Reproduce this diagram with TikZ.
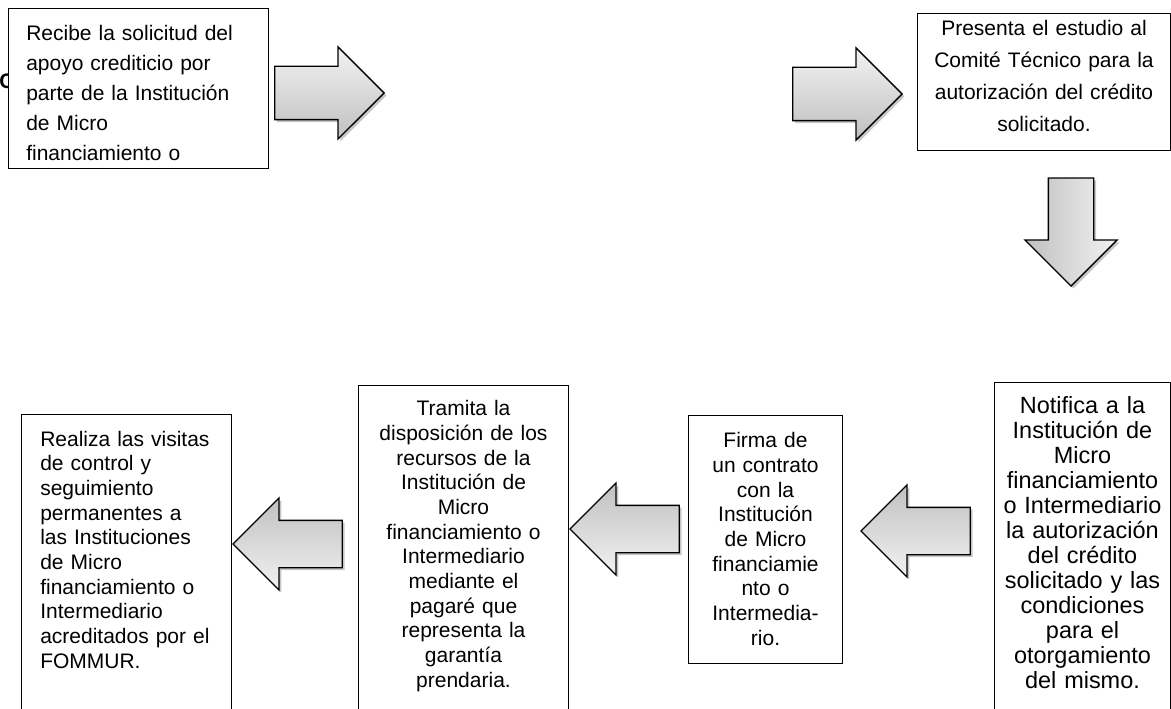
\documentclass[tikz,border=0pt]{standalone}
\usepackage{fontspec}
\setmainfont{Liberation Sans}
\usetikzlibrary{shapes.arrows,shadows,positioning}
\definecolor{flowLight}{HTML}{F2F2F2}
\definecolor{flowDark}{HTML}{C0C0C0}
\tikzset{
    % boxes and texts of the steps
    stepbox/.style={rectangle,draw=black,line width=0.75pt,fill=white,inner sep=0pt,anchor=north west},
    steptext/.style={inner sep=0pt,align=center,font=\fontsize{15.75}{18.5}\selectfont},
    % block arrows between the steps
    blockarrow/.style={single arrow,draw=black,line width=1pt,inner sep=17.25pt,single arrow head extend=16.75pt,minimum height=82pt,minimum width=68pt,anchor=tip,
        drop shadow={shadow xshift=1.8pt,shadow yshift=-1.8pt,fill=black,opacity=0.22}},
    rightarrow/.style={blockarrow,top color=flowLight,bottom color=flowDark},
    leftarrow/.style={blockarrow,shape border rotate=180,top color=flowDark,bottom color=flowLight},
    downarrow/.style={blockarrow,shape border rotate=270,left color=flowDark,right color=flowLight}
}

\begin{document}
\begin{tikzpicture}[x=0.75pt,y=-0.75pt]
\path[use as bounding box] (0,0) rectangle (1171,709);
\clip (0,0) rectangle (1171,709);
\fill[white] (0,0) rectangle (1171,709);

% Letter hidden behind the first box
\node[inner sep=0pt,anchor=west,font=\bfseries\fontsize{15.75}{18}\selectfont] (hiddenC) at (-1,81.5) {C};

% Top row - left to right
\node[stepbox,minimum width=195pt,minimum height=120pt] (recibe) at (8,8) {};
\node[steptext,align=left,text width=180pt,font=\fontsize{15.75}{22.5}\selectfont,below right=12.4pt and 13.5pt of recibe.north west] (recibe_txt) {Recibe la solicitud del\\apoyo crediticio por\\parte de la Institución\\de Micro\\financiamiento o};

\node[rightarrow,inner sep=19.5pt,single arrow head extend=14.5pt] (arrow_a) at (385,93) {};
\node[rightarrow,inner sep=19.5pt,single arrow head extend=14.5pt] (arrow_b) at (903,94) {};

\node[stepbox,minimum width=189.75pt,minimum height=102.75pt] (presenta) at (917,13) {};
\node[steptext,text width=185pt,font=\fontsize{15.75}{23.8}\selectfont,below=5.6pt of presenta.north] (presenta_txt) {Presenta el estudio al\\Comité Técnico para la\\autorización del crédito\\solicitado.};

% Turn down to the second row
\node[downarrow,inner sep=16.5pt,single arrow head extend=17.5pt,minimum height=81pt] (arrow_c) at (1071,287) {};

% Bottom row - right to left
\node[stepbox,minimum width=132pt,minimum height=255pt] (notifica) at (994,382) {};
\node[steptext,text width=130pt,font=\fontsize{17.6}{18.75}\selectfont,below=11pt of notifica.north] (notifica_txt) {Notifica a la\\Institución de\\Micro\\financiamiento\\o Intermediario\\la autorización\\del crédito\\solicitado y las\\condiciones\\para el\\otorgamiento\\del mismo.};

\node[leftarrow] (arrow_d) at (860,531) {};

\node[stepbox,minimum width=115.5pt,minimum height=186pt] (firma) at (688,415) {};
\node[steptext,text width=112pt,below=13.1pt of firma.north] (firma_txt) {Firma de\\un contrato\\con la\\Institución\\de Micro\\financiamie\\nto o\\Intermedia-\\rio.};

\node[leftarrow] (arrow_e) at (569,529) {};

\node[stepbox,minimum width=157.5pt,minimum height=255pt] (tramita) at (358,385) {};
\node[steptext,text width=155pt,below=11.6pt of tramita.north] (tramita_txt) {Tramita la\\disposición de los\\recursos de la\\Institución de\\Micro\\financiamiento o\\Intermediario\\mediante el\\pagaré que\\representa la\\garantía\\prendaria.};

\node[leftarrow] (arrow_f) at (232,544) {};

\node[stepbox,minimum width=157.5pt,minimum height=240pt] (realiza) at (21,414) {};
\node[steptext,align=left,text width=150pt,below right=12.4pt and 14.25pt of realiza.north west] (realiza_txt) {Realiza las visitas\\de control y\\seguimiento\\permanentes a\\las Instituciones\\de Micro\\financiamiento o\\Intermediario\\acreditados por el\\FOMMUR.};

\end{tikzpicture}
\end{document}
